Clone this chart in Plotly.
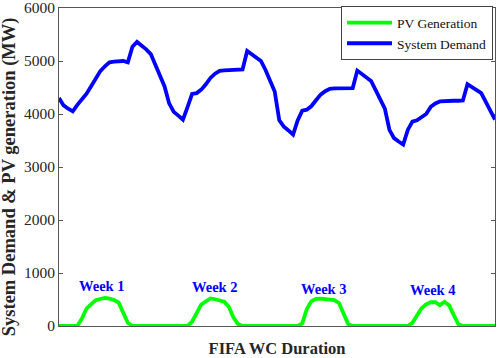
import plotly.graph_objects as go

# Hour index over the four match weeks (one representative day per week)
hours = list(range(1, 97))

system_demand = [
    # Week 1
    4300, 4162, 4100, 4050, 4172, 4281, 4384, 4522, 4680, 4809, 4900, 4975,
    4990, 5000, 5000, 4975, 5270, 5360, 5300, 5220, 5130, 4940, 4740, 4520,
    # Week 2
    4200, 4040, 3970, 3894, 4130, 4378, 4394, 4460, 4560, 4680, 4760, 4815,
    4825, 4830, 4830, 4830, 4840, 5190, 5130, 5060, 5000, 4830, 4633, 4425,
    # Week 3
    3880, 3760, 3690, 3612, 3880, 4062, 4081, 4150, 4260, 4365, 4430, 4475,
    4485, 4487, 4487, 4487, 4490, 4819, 4760, 4690, 4625, 4450, 4265, 4100,
    # Week 4
    3700, 3545, 3480, 3425, 3700, 3855, 3880, 3930, 4000, 4135, 4200, 4237,
    4245, 4250, 4250, 4250, 4255, 4562, 4495, 4450, 4394, 4230, 4060, 3894,
]

pv_generation = [
    # Week 1
    0, 0, 0, 0, 5, 140, 330, 414, 485, 510, 531, 515,
    490, 440, 264, 60, 0, 0, 0, 0, 0, 0, 0, 0,
    # Week 2
    0, 0, 0, 0, 0, 81, 244, 406, 465, 519, 505, 488,
    460, 363, 162, 37, 0, 0, 0, 0, 0, 0, 0, 0,
    # Week 3
    0, 0, 0, 0, 0, 50, 321, 469, 510, 518, 507, 488,
    487, 434, 233, 36, 0, 0, 0, 0, 0, 0, 0, 0,
    # Week 4
    0, 0, 0, 0, 0, 59, 192, 334, 410, 448, 449, 394,
    456, 390, 209, 36, 0, 0, 0, 0, 0, 0, 0, 0,
]

week_labels = ["Week 1", "Week 2", "Week 3", "Week 4"]
week_label_x = [10.4, 35.0, 58.8, 82.4]
week_label_y = [750, 731, 694, 675]

y_ticks = [0, 1000, 2000, 3000, 4000, 5000, 6000]

SERIF = "Liberation Serif, Times New Roman, serif"
AXIS_COLOR = "#555555"
TEXT_COLOR = "#262626"

fig = go.Figure()
fig.add_trace(go.Scatter(
    x=hours, y=pv_generation, mode="lines", name="PV Generation",
    line=dict(color="#00FF00", width=3.8), cliponaxis=False,
))
fig.add_trace(go.Scatter(
    x=hours, y=system_demand, mode="lines", name="System Demand",
    line=dict(color="#0000FF", width=3.8), cliponaxis=False,
))

for label, lx, ly in zip(week_labels, week_label_x, week_label_y):
    fig.add_annotation(
        x=lx, y=ly, text=label, showarrow=False, xref="x", yref="y",
        font=dict(family=SERIF, size=14.5, color="#0000FF", weight="bold"),
    )

# y-axis title placed as a rotated paper annotation (slightly below centre, as in the reference)
fig.add_annotation(
    x=-0.113, y=0.47, xref="paper", yref="paper", xanchor="center", yanchor="middle",
    text="System Demand & PV generation (MW)", textangle=-90, showarrow=False,
    font=dict(family=SERIF, size=18.5, color=TEXT_COLOR, weight="bold"),
)

fig.update_layout(
    width=498, height=358,
    margin=dict(l=59, r=3, t=8, b=32, autoexpand=False),
    paper_bgcolor="white", plot_bgcolor="white",
    font=dict(family=SERIF, color=TEXT_COLOR),
    showlegend=True,
    legend=dict(
        x=0.9954, xanchor="right", y=1.005, yanchor="top",
        bgcolor="white", bordercolor="#444444", borderwidth=1,
        font=dict(family=SERIF, size=13.5, color="#111111"),
        itemwidth=45,
    ),
)

fig.update_xaxes(
    range=[1, 96], showticklabels=False, ticks="", automargin=False,
    showline=True, linecolor=AXIS_COLOR, linewidth=1, mirror=True,
    showgrid=False, zeroline=False, layer="below traces",
    title=dict(text="FIFA WC Duration", standoff=21,
               font=dict(family=SERIF, size=16.5, color=TEXT_COLOR, weight="bold")),
)
fig.update_yaxes(
    range=[0, 6000], tickvals=y_ticks, ticks="inside", ticklen=4,
    tickcolor=AXIS_COLOR, showline=True, linecolor=AXIS_COLOR, linewidth=1,
    mirror="ticks", showgrid=False, zeroline=False, layer="below traces",
    automargin=False, ticklabeloverflow="allow",
    tickfont=dict(family=SERIF, size=15.5, color=TEXT_COLOR),
)

fig.write_html(
    "out.html",
    config={"displayModeBar": False},
    post_script="document.body.style.margin='0';document.body.style.overflow='hidden';",
)
